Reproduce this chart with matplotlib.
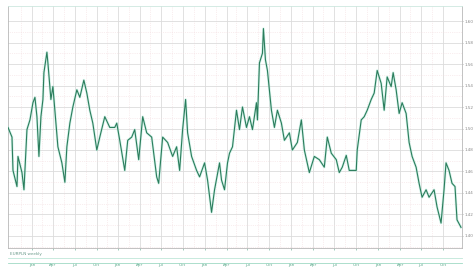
import matplotlib
matplotlib.use("Agg")
import matplotlib.pyplot as plt
from matplotlib.lines import Line2D
import numpy as np

# weekly closes (week index, price)
weeks = [0, 4, 5, 9, 10, 14, 16, 19, 22, 25, 27, 29, 31, 33, 35, 36, 39, 40, 43, 45,
         47, 50, 54, 57, 59, 62, 65, 69, 72, 76, 79, 82, 85, 89, 92, 97, 102, 107, 109, 112,
         117, 120, 124, 127, 131, 135, 139, 144, 149, 151, 155, 160, 165, 169, 172, 175, 178, 180, 184, 189,
         192, 197, 200, 204, 207, 212, 214, 217, 220, 222, 225, 229, 232, 235, 239, 242, 245, 249, 250, 252,
         255, 256, 258, 260, 264, 267, 270, 274, 277, 282, 285, 290, 294, 297, 302, 307, 312, 317, 320, 324,
         329, 332, 335, 339, 342, 349, 350, 354, 357, 360, 364, 367, 370, 374, 377, 380, 384, 386, 389, 392,
         395, 399, 402, 405, 409, 412, 415, 419, 422, 427, 430, 434, 437, 439, 442, 445, 448, 450, 454]
price = [1.501, 1.492, 1.461, 1.446, 1.474, 1.459, 1.443, 1.499, 1.508, 1.524, 1.529, 1.511, 1.474, 1.511, 1.527, 1.552, 1.571, 1.561, 1.527, 1.539,
         1.517, 1.483, 1.468, 1.450, 1.483, 1.505, 1.520, 1.536, 1.529, 1.545, 1.533, 1.517, 1.505, 1.480, 1.492, 1.511, 1.501, 1.501, 1.505, 1.489,
         1.461, 1.489, 1.492, 1.499, 1.471, 1.511, 1.496, 1.492, 1.455, 1.449, 1.492, 1.487, 1.474, 1.483, 1.461, 1.499, 1.527, 1.496, 1.474, 1.461,
         1.455, 1.468, 1.452, 1.422, 1.443, 1.468, 1.452, 1.443, 1.468, 1.477, 1.483, 1.517, 1.499, 1.520, 1.501, 1.511, 1.499, 1.524, 1.508, 1.561,
         1.570, 1.593, 1.564, 1.554, 1.517, 1.501, 1.517, 1.505, 1.489, 1.496, 1.480, 1.487, 1.508, 1.480, 1.459, 1.474, 1.471, 1.464, 1.492, 1.477,
         1.471, 1.459, 1.464, 1.475, 1.461, 1.461, 1.480, 1.508, 1.511, 1.517, 1.527, 1.533, 1.554, 1.542, 1.517, 1.548, 1.539, 1.552, 1.536, 1.514,
         1.524, 1.514, 1.487, 1.474, 1.464, 1.449, 1.436, 1.443, 1.436, 1.443, 1.427, 1.412, 1.443, 1.468, 1.461, 1.449, 1.446, 1.415, 1.408]

y_ticks = [1.600, 1.580, 1.560, 1.540, 1.520, 1.500, 1.480, 1.460, 1.440, 1.420, 1.400]
x_ticks = [24, 45, 67, 89, 110, 132, 153, 175, 197, 219, 240, 262, 284, 306, 327, 349, 371, 393, 414, 436]
x_labels = ["Jan", "Apr", "Jul", "Oct", "Jan", "Apr", "Jul", "Oct", "Jan", "Apr",
            "Jul", "Oct", "Jan", "Apr", "Jul", "Oct", "Jan", "Apr", "Jul", "Oct"]

fig = plt.figure(figsize=(4.75, 2.71), dpi=100)
ax = fig.add_axes([8 / 475, 1 - 248 / 271, 454 / 475, 242 / 271])

line_col = "#2b7d5c"
ax.plot(weeks, price, color="#a8e6d4", lw=1.8, alpha=0.5, zorder=3)
ax.plot(weeks, price, color=line_col, lw=0.8, zorder=4)

ax.set_xlim(0, 455)
ax.set_ylim(1.3888, 1.6140)

# main grid + faint pink midlines
for t in x_ticks:
    ax.axvline(t, color="#dcdcdc", lw=0.6, zorder=1)
    ax.axvline(t - 11, color="#f3dde0", lw=0.5, ls=":", zorder=1)
for t in y_ticks:
    ax.axhline(t, color="#dcdcdc", lw=0.6, zorder=1)
    ax.axhline(t - 0.01, color="#f3dde0", lw=0.5, ls=":", zorder=1)

ax.set_xticks(x_ticks)
ax.set_xticklabels(x_labels)
ax.set_yticks(y_ticks)
ax.set_yticklabels([f"{v:.2f}" for v in y_ticks])
ax.yaxis.tick_right()
ax.tick_params(axis="y", length=1.0, width=0.4, labelsize=3, colors="#888888", pad=0.8)
ax.tick_params(axis="x", length=1.5, width=0.4, labelsize=3, colors="#5aa88a", pad=9)

for side, sp in ax.spines.items():
    sp.set_color("#b8b8b8")
    sp.set_linewidth(0.6)
ax.spines["top"].set_color("#cde8df")

# caption strip under the plot
fig.add_artist(Line2D([8 / 475, 462 / 475], [1 - 258 / 271, 1 - 258 / 271],
                      color="#bfe6d8", lw=0.6))
fig.add_artist(Line2D([8 / 475, 462 / 475], [1 - 263 / 271, 1 - 263 / 271],
                      color="#9fd9c4", lw=0.6))
fig.text(10 / 475, 1 - 254 / 271, "EURPLN weekly", fontsize=3, color="#6a9a8a",
         va="center", ha="left")

fig.savefig("out.png", dpi=100, facecolor="white")
